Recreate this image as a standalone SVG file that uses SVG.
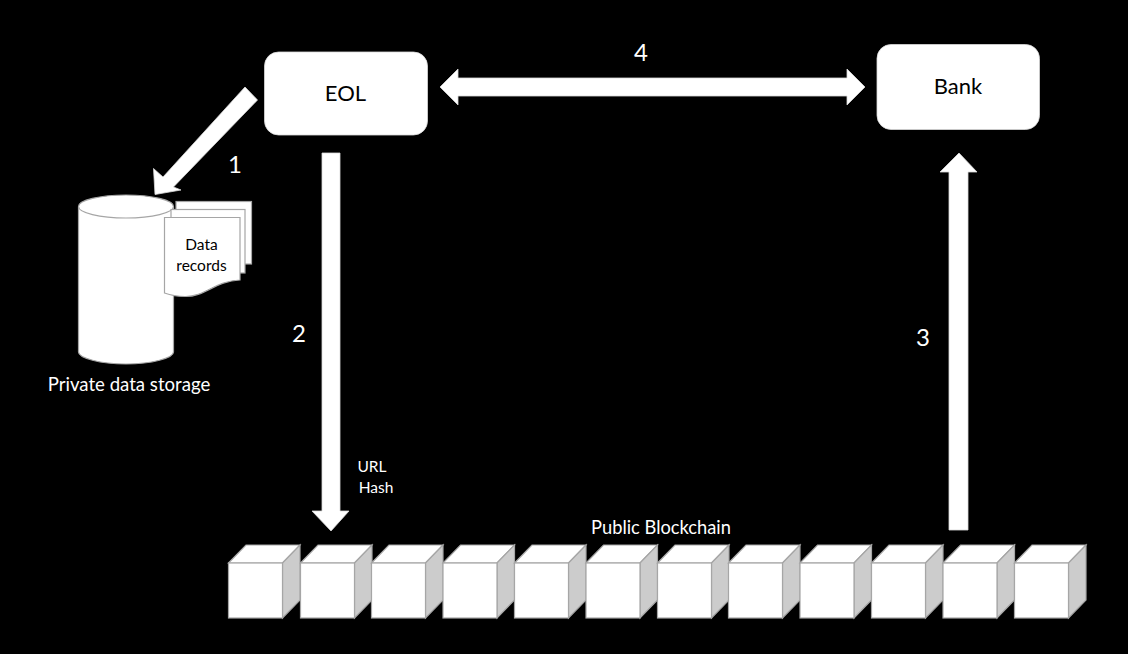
<svg xmlns="http://www.w3.org/2000/svg" width="1128" height="654" viewBox="0 0 1128 654">
<style>
text{font-family:Lato,"Liberation Sans",sans-serif;text-anchor:middle;fill:#000}
.w{fill:#fff}
.n{font-size:22px}
.s{fill:#fff;stroke:#a6a6a6;stroke-width:1.2}
.d{fill:#ccc;stroke:#a6a6a6;stroke-width:1.2}
.a{fill:#fff;stroke:#d9d9d9;stroke-width:.8}
</style>
<defs>
<g id="cube">
<path class="s" d="M0 18L17.500 0H71.500L54 18Z"/>
<path class="d" d="M54 18L71.500 0V55L54 73Z"/>
<rect class="s" x="0" y="18" width="54" height="55"/>
</g>
</defs>
<rect width="1128" height="654" fill="#000"/>
<g id="connectors">
<path class="a" d="M245 87L257.500 100L173.500 187L181 190L155 194.500L153.500 168.500L163 177Z"/>
<path class="a" d="M322 153H340V511H349L331 531L312 511H322Z"/>
<path class="a" d="M949 530V172H940L959 153L977 172H968V530Z"/>
<path class="a" d="M440 87L458 69V78H847V69L865 87L847 105V96H458V105Z"/>
</g>
<g id="eol"><rect class="a" x="264.500" y="52" width="163" height="83" rx="14"/><text class="n" x="345.500" y="101">EOL</text></g>
<g id="bank"><rect class="a" x="877" y="44.500" width="162.500" height="85" rx="14"/><text class="n" x="958" y="94">Bank</text></g>
<g id="storage">
<path class="s" d="M78.500 207V352C78.500 358 100 364 126 364S173.500 358 173.500 352V207Z"/>
<ellipse class="s" cx="126" cy="206.500" rx="47.500" ry="11.500"/>
<rect class="s" x="176" y="201.500" width="75.500" height="62.500"/>
<rect class="s" x="171" y="209.500" width="74" height="63.500"/>
<path class="s" d="M164.500 217.500H240V280C215 281 205 297 185 296.500C176 296.500 170 295 164.500 293Z"/>
<text font-size="15.500" x="201.500" y="250">Data</text>
<text font-size="15.500" x="201.500" y="271">records</text>
<text font-size="18.600" x="129" y="391" style="fill:#fff">Private data storage</text>
</g>
<g id="blockchain">
<use href="#cube" x="228.500" y="545"/>
<use href="#cube" x="300.500" y="545"/>
<use href="#cube" x="371.500" y="545"/>
<use href="#cube" x="443" y="545"/>
<use href="#cube" x="514.500" y="545"/>
<use href="#cube" x="586" y="545"/>
<use href="#cube" x="657.500" y="545"/>
<use href="#cube" x="728.500" y="545"/>
<use href="#cube" x="800" y="545"/>
<use href="#cube" x="871.500" y="545"/>
<use href="#cube" x="943" y="545"/>
<use href="#cube" x="1014.500" y="545"/>
<text font-size="18.300" x="661" y="533.500" style="fill:#fff">Public Blockchain</text>
</g>
<g id="labels">
<text font-size="24" x="235" y="173" style="fill:#fff">1</text>
<text font-size="24" x="299" y="342" style="fill:#fff">2</text>
<text font-size="24" x="923" y="346" style="fill:#fff">3</text>
<text font-size="24" x="641" y="61" style="fill:#fff">4</text>
<text font-size="15.500" x="372" y="472" style="fill:#fff">URL</text>
<text font-size="15.500" x="376" y="493" style="fill:#fff">Hash</text>
</g>
</svg>
